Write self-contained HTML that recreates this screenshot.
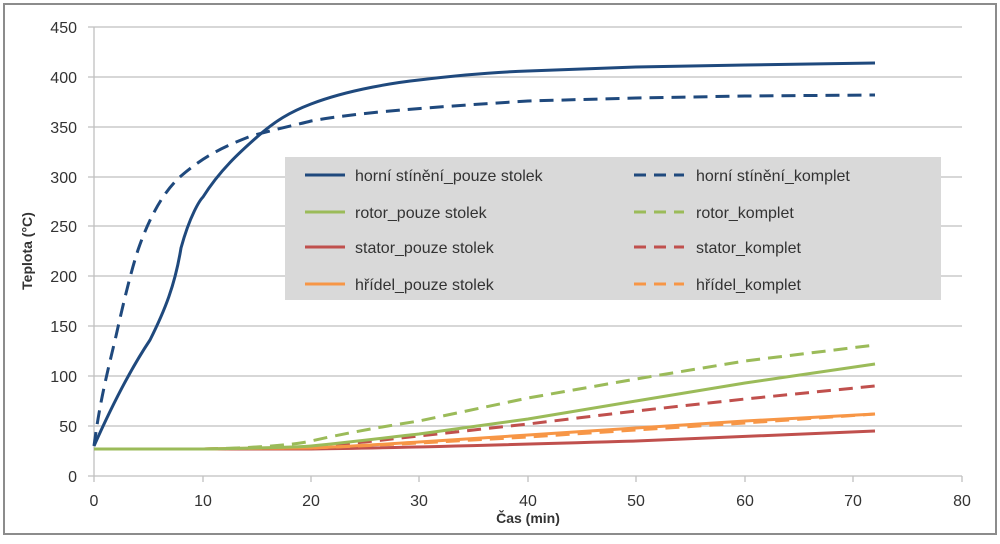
<!DOCTYPE html>
<html><head><meta charset="utf-8"><style>
body{margin:0;background:#fff}
text{font-family:"Liberation Sans",sans-serif;fill:#333}
</style></head><body>
<svg width="1000" height="539" xmlns="http://www.w3.org/2000/svg">
<rect x="4" y="4" width="992" height="530" fill="#fff" stroke="#8c8c8c" stroke-width="2"/>
<g stroke="#bfbfbf" stroke-width="1.3">
<line x1="88" x2="962" y1="27" y2="27"/><line x1="88" x2="962" y1="77" y2="77"/>
<line x1="88" x2="962" y1="127" y2="127"/><line x1="88" x2="962" y1="177" y2="177"/>
<line x1="88" x2="962" y1="226" y2="226"/><line x1="88" x2="962" y1="276" y2="276"/>
<line x1="88" x2="962" y1="326" y2="326"/><line x1="88" x2="962" y1="376" y2="376"/>
<line x1="88" x2="962" y1="426" y2="426"/><line x1="88" x2="962" y1="476" y2="476"/>
<line x1="94" x2="94" y1="27" y2="482"/>
<line x1="203" x2="203" y1="476" y2="482"/><line x1="311" x2="311" y1="476" y2="482"/>
<line x1="419" x2="419" y1="476" y2="482"/><line x1="528" x2="528" y1="476" y2="482"/>
<line x1="636" x2="636" y1="476" y2="482"/><line x1="745" x2="745" y1="476" y2="482"/>
<line x1="853" x2="853" y1="476" y2="482"/><line x1="962" x2="962" y1="476" y2="482"/>
</g>
<g font-size="16" text-anchor="end">
<text x="77" y="33">450</text><text x="77" y="83">400</text><text x="77" y="133">350</text>
<text x="77" y="183">300</text><text x="77" y="232">250</text><text x="77" y="282">200</text>
<text x="77" y="332">150</text><text x="77" y="382">100</text><text x="77" y="432">50</text>
<text x="77" y="482">0</text></g>
<g font-size="16" text-anchor="middle">
<text x="94" y="506">0</text><text x="203" y="506">10</text><text x="311" y="506">20</text>
<text x="419" y="506">30</text><text x="528" y="506">40</text><text x="636" y="506">50</text>
<text x="745" y="506">60</text><text x="853" y="506">70</text><text x="962" y="506">80</text></g>
<text x="528" y="523" font-size="14" font-weight="bold" text-anchor="middle">Čas (min)</text>
<text transform="translate(32,251) rotate(-90)" font-size="14" font-weight="bold" text-anchor="middle">Teplota (°C)</text>
<g fill="none" stroke-width="3">
<path d="M94,449 L311,449 C400,448 500,445 636,441 L875,431" stroke="#c0504d"/>
<path d="M94,449 L203,449 C260,448 300,448 311,447 C350,444 400,438 419,436 L528,424 L636,411 L745,399 L875,386" stroke="#c0504d" stroke-dasharray="14,8"/>
<path d="M94,449 L203,449 C260,448 300,448 311,448 C360,446 400,444 419,443 L528,437 L636,430 L745,423 L875,414" stroke="#f79646" stroke-dasharray="14,8"/>
<path d="M94,449 L203,449 C260,448 300,448 311,448 C360,446 400,443 419,442 L528,435 L636,428 L745,421 L875,414" stroke="#f79646"/>
<path d="M94,449 L203,449 C260,448 300,447 311,446 C360,441 400,436 419,434 L528,419 L636,401 L745,383 L875,364" stroke="#9bbb59"/>
<path d="M94,449 L203,449 C260,448 300,444 311,441 C360,430 400,424 419,421 L528,398 L636,379 L745,361 L875,345" stroke="#9bbb59" stroke-dasharray="14,8"/>
<path d="M94,446 C100,400 108,370 116,336 C124,300 132,268 138,250 C150,215 165,190 181,176 C200,160 215,150 251,136 C280,128 300,124 311,121 C350,114 400,109 528,101 L636,98 L745,96 L875,95" stroke="#1f497d" stroke-dasharray="14,8"/>
<path d="M94,446 C110,410 130,370 150,340 C165,310 175,285 181,248 C190,215 200,200 203,197 C220,170 240,152 257,137 C275,121 290,112 311,104 C350,89 400,82 419,80 C460,75 500,72 528,71 L636,67 L745,65 L875,63" stroke="#1f497d"/>
</g>
<rect x="285" y="157" width="656" height="143" fill="#d9d9d9"/>
<g stroke-width="3">
<line x1="305" x2="345" y1="175" y2="175" stroke="#1f497d"/>
<line x1="305" x2="345" y1="212" y2="212" stroke="#9bbb59"/>
<line x1="305" x2="345" y1="247" y2="247" stroke="#c0504d"/>
<line x1="305" x2="345" y1="284" y2="284" stroke="#f79646"/>
<g stroke-dasharray="12,8">
<line x1="634" x2="684" y1="175" y2="175" stroke="#1f497d"/>
<line x1="634" x2="684" y1="212" y2="212" stroke="#9bbb59"/>
<line x1="634" x2="684" y1="247" y2="247" stroke="#c0504d"/>
<line x1="634" x2="684" y1="284" y2="284" stroke="#f79646"/></g></g>
<g font-size="16">
<text x="355" y="181">horní stínění_pouze stolek</text>
<text x="355" y="218">rotor_pouze stolek</text>
<text x="355" y="253">stator_pouze stolek</text>
<text x="355" y="290">hřídel_pouze stolek</text>
<text x="696" y="181">horní stínění_komplet</text>
<text x="696" y="218">rotor_komplet</text>
<text x="696" y="253">stator_komplet</text>
<text x="696" y="290">hřídel_komplet</text></g>
</svg>
</body></html>
